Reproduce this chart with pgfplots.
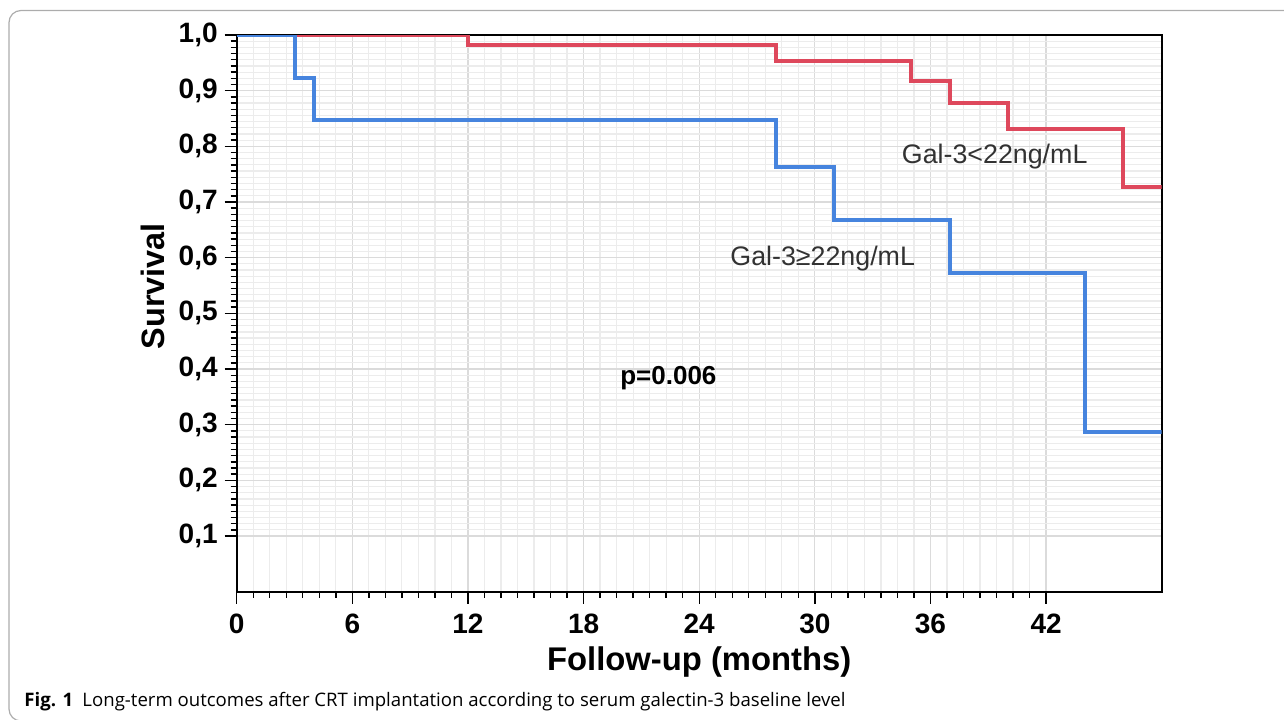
\documentclass[border=0pt]{standalone}
\usepackage{pgfplots}
\pgfplotsset{compat=1.18}
\usepackage{fontspec}
\setmainfont{Liberation Sans}
\newfontfamily\capfont{Open Sans}
\definecolor{kmred}{RGB}{222,72,92}
\definecolor{kmblue}{RGB}{70,132,222}
\definecolor{txtgray}{RGB}{50,50,50}
\begin{document}
\begin{tikzpicture}
\path[use as bounding box] (0,0) rectangle (642pt,359.5pt);
\draw[gray!65, line width=0.6pt, rounded corners=6pt] (20pt,-1pt) -- (4.5pt,-1pt) -- (4.5pt,354.25pt) -- (660pt,354.25pt);
\begin{axis}[
  at={(118.35pt,63.65pt)}, anchor=south west,
  scale only axis, width=462.5pt, height=278.35pt,
  clip mode=individual,
  xmin=0, xmax=48, ymin=0, ymax=1,
  xtick={0,6,12,18,24,30,36,42},
  ytick={0.1,0.2,0.3,0.4,0.5,0.6,0.7,0.8,0.9,1.0},
  minor x tick num=6, minor y tick num=8,
  tick align=outside, xtick pos=left, ytick pos=left,
  major tick length=6pt, minor tick length=3pt,
  every tick/.style={black, line width=0.7pt},
  axis line style={black, line width=1pt},
  grid=both,
  major grid style={gray!28, line width=0.6pt},
  minor grid style={gray!15, line width=0.6pt},
  tick label style={font=\bfseries\fontsize{14}{16}\selectfont},
  /pgf/number format/assume math mode=true,
  yticklabel style={/pgf/number format/.cd, fixed, fixed zerofill, precision=1, use comma},
  xticklabel style={yshift=-1.5pt, /pgf/number format/.cd, fixed, precision=0},
]
\addplot[const plot, kmred, line width=2pt] coordinates {
  (0,1.0) (12,0.982) (28,0.954) (35,0.917) (37,0.877) (40,0.831) (46,0.727) (48,0.727)
};
\addplot[const plot, kmblue, line width=2pt] coordinates {
  (0,1.0) (3,0.922) (4,0.847) (28,0.763) (31,0.668) (37,0.573) (44,0.287) (48,0.287)
};
\node[anchor=west, inner sep=0pt, text=txtgray, font=\fontsize{13.4}{15}\selectfont] at (axis cs:34.5,0.781) {Gal-3<22ng/mL};
\node[anchor=west, inner sep=0pt, text=txtgray, font=\fontsize{13.4}{15}\selectfont] at (axis cs:25.6,0.599) {Gal-3≥22ng/mL};
\node[font=\bfseries\fontsize{13}{15}\selectfont] at (axis cs:22.4,0.384) {p=0.006};
\node[font=\bfseries\fontsize{16.4}{19}\selectfont] at (axis description cs:0.5,-0.126) {Follow-up (months)};
\node[rotate=90, font=\bfseries\fontsize{16.2}{19}\selectfont] at (axis description cs:-0.0905,0.549) {Survival};
\end{axis}
\node[anchor=base west, inner sep=0pt, font=\capfont\fontsize{9.3}{11}\selectfont] at (12pt,6.5pt) {\textbf{Fig. 1}\enspace Long-term outcomes after CRT implantation according to serum galectin-3 baseline level};
\end{tikzpicture}
\end{document}
